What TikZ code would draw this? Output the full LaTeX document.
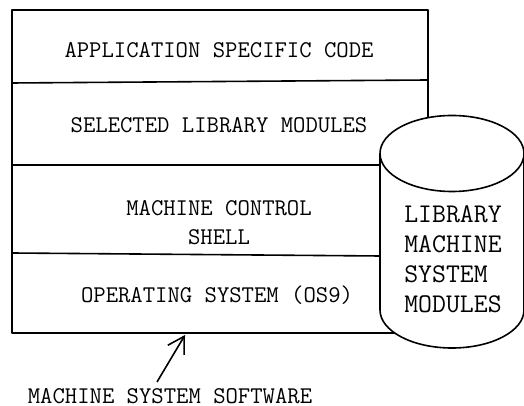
\documentclass[tikz,border=0pt]{standalone}
\usetikzlibrary{arrows.meta}
\begin{document}
\begin{tikzpicture}[x=1pt,y=1pt,
  outline/.style={line width=1.6pt, line join=round},
  layertext/.style={font=\ttfamily\fontsize{24}{29}\selectfont, inner sep=0pt, align=center},
  cyltext/.style={font=\ttfamily\fontsize{27}{30}\selectfont, inner sep=0pt, align=left}]
\useasboundingbox (0,0) rectangle (524,406);

% outer frame of the software stack
\draw[outline] (12,73) rectangle (428,396);
% layer dividers
\draw[outline] (12,323) -- (428,326);
\draw[outline] (12,241) -- (380,241);
\draw[outline] (12,153) -- (380,150);

% library cylinder, drawn over the frame
\filldraw[outline, fill=white]
  (380,252.5) -- (380,96)
  arc[start angle=180, end angle=360, x radius=72pt, y radius=38pt]
  -- (524,252.5)
  arc[start angle=0, end angle=180, x radius=72pt, y radius=38pt] -- cycle;
\draw[outline] (380,252.5)
  arc[start angle=180, end angle=360, x radius=72pt, y radius=38pt];

% layer labels
\node[layertext] (app) at (219,356) {APPLICATION SPECIFIC CODE};
\node[layertext] (sel) at (219,281) {SELECTED LIBRARY MODULES};
\node[layertext] (mcs) at (219,183.5) {MACHINE CONTROL\\SHELL};
\node[layertext] (os)  at (217,111) {OPERATING SYSTEM (OS9)};
\node[cyltext]   (lib) at (453,147) {LIBRARY\\MACHINE\\SYSTEM\\MODULES};

% caption with pointer to the stack
\node[layertext] (msw) at (170,10) {MACHINE SYSTEM SOFTWARE};
\coordinate (tail) at (157,24);
\coordinate (tip) at (185,71);
\draw[line width=1.6pt, -{Straight Barb[length=16pt, width=19pt, line width=1.6pt]}] (tail) -- (tip);
\end{tikzpicture}
\end{document}
